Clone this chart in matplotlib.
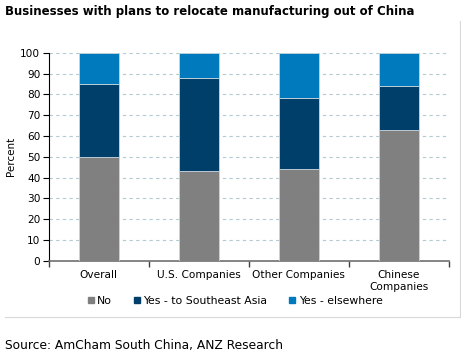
import matplotlib.pyplot as plt
import numpy as np
from matplotlib.lines import Line2D

# data (percent)
categories = ['Overall', 'U.S. Companies', 'Other Companies', 'Chinese\nCompanies']
no_plans = [50, 43, 44, 63]
yes_sea = [35, 45, 34, 21]
yes_else = [15, 12, 22, 16]
series_names = ['No', 'Yes - to Southeast Asia', 'Yes - elsewhere']
series_colors = ['#808080', '#003F6A', '#007ABD']

fig = plt.figure(figsize=(4.61, 3.57), dpi=100)
ax = fig.add_axes([0.1056, 0.2697, 0.8677, 0.5826])

x = np.arange(len(categories))
bottom = np.zeros(len(categories))
for vals, name, col in zip([no_plans, yes_sea, yes_else], series_names, series_colors):
    ax.bar(x, vals, width=0.4, bottom=bottom, color=col, edgecolor='#C8D4DC',
           linewidth=0.6, label=name, zorder=3)
    bottom += np.array(vals)

ax.set_xlim(-0.5, len(categories) - 0.5)
ax.set_ylim(0, 100)
ax.set_yticks(range(0, 101, 10))
ax.yaxis.grid(True, linestyle=(0, (3, 3)), color='#B4CAD2', linewidth=0.8, zorder=0)

# category labels centred, ticks between categories
ax.set_xticks(x)
ax.set_xticklabels(categories, fontsize=7.6, linespacing=1.25)
ax.tick_params(axis='x', which='major', length=0, pad=7)
ax.set_xticks(np.arange(-0.5, len(categories)), minor=True)
ax.tick_params(axis='x', which='minor', length=4, width=1, color='#404040')
ax.tick_params(axis='y', length=4, width=0.8, labelsize=7.6, pad=2)

for s in ['top', 'right']:
    ax.spines[s].set_visible(False)
ax.spines['left'].set_color('black')
ax.spines['left'].set_linewidth(0.8)
ax.spines['bottom'].set_color('#707070')
ax.spines['bottom'].set_linewidth(1.2)

ax.set_ylabel('Percent', fontsize=7.5, labelpad=3)

handles = [Line2D([], [], marker='s', linestyle='none', markersize=4.5,
                  markerfacecolor=c, markeredgecolor=c) for c in series_colors]
fig.legend(handles, series_names, loc='center', bbox_to_anchor=(0.51, 0.158), ncol=3,
           frameon=False, fontsize=7.8, handlelength=0.6, handletextpad=0.3,
           columnspacing=2.0)

fig.text(0.011, 0.968, 'Businesses with plans to relocate manufacturing out of China',
         fontsize=8.5, fontweight='bold', va='center', ha='left')
fig.text(0.011, 0.032, 'Source: AmCham South China, ANZ Research',
         fontsize=8.8, va='center', ha='left')

# faint frame around the chart panel
fig.add_artist(Line2D([0.011, 0.998], [0.112, 0.112], color='#D8D8D8', linewidth=0.8))
fig.add_artist(Line2D([0.998, 0.998], [0.112, 0.94], color='#D8D8D8', linewidth=0.8))

fig.savefig('out.png', dpi=100)
